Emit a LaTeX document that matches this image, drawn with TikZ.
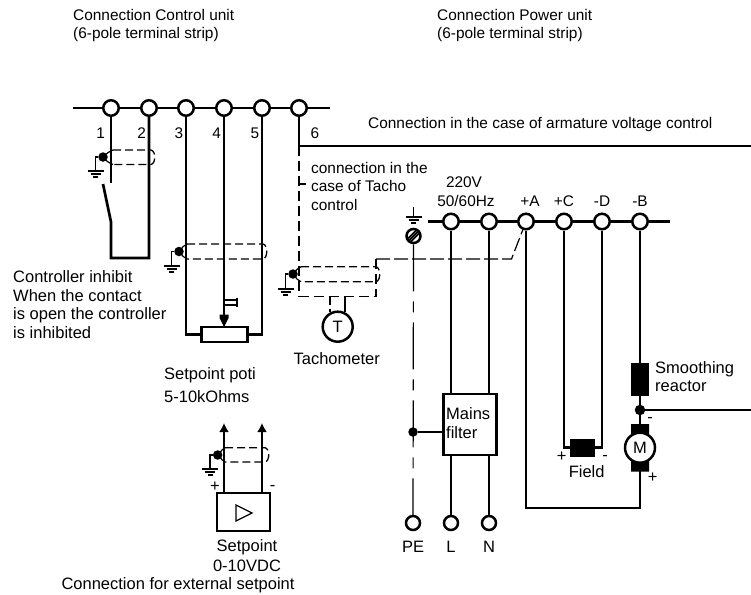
\documentclass[tikz,border=0pt]{standalone}
\usepackage{fontspec}
\setmainfont{Liberation Sans}
\usetikzlibrary{arrows.meta}
\tikzset{
 wire/.style={line width=2.7pt,black},
 shield/.style={line width=1.3pt,dash pattern=on 8pt off 4pt},
 term/.style={circle,draw,line width=2.5pt,fill=white,minimum size=15.5pt,inner sep=0pt},
 dotn/.style={circle,fill=black,minimum size=9.5pt,inner sep=0pt},
 blk/.style={rectangle,fill=black,inner sep=0pt},
 lab/.style={inner sep=0pt,align=left,anchor=west,font=\fontsize{16.5}{18.5}\selectfont},
 clab/.style={inner sep=0pt,align=center,font=\fontsize{16.5}{18.5}\selectfont},
 labs/.style={inner sep=0pt,align=left,anchor=west,font=\fontsize{15.4}{18.5}\selectfont},
 clabs/.style={inner sep=0pt,align=center,font=\fontsize{15.4}{18.5}\selectfont},
 mach/.style={circle,draw,line width=2.5pt,fill=white,minimum size=30pt,inner sep=0pt,font=\fontsize{16.5}{18}\selectfont},
 pics/gnd/.style={code={
   \draw[line width=1.2pt] (-8,0) -- (8,0) (-5,3) -- (5,3) (-2.5,6) -- (2.5,6);}},
}
\newcommand{\shieldpath}[5]{% left, right, top, bottom, dotx
 \draw[shield] (#1,#3) -- (#2,#3) .. controls (#2+5,#3+1) and (#2+5,#4-1) .. (#2,#4) -- (#1,#4);
 \draw[line width=1.2pt] (#1,#3) .. controls (#1-3,#3+1) and (#5+3,#3+4) .. (#5+2,#3+5);
 \draw[line width=1.2pt] (#1,#4) .. controls (#1-3,#4-1) and (#5+3,#4-4) .. (#5+2,#4-5);
}
\begin{document}
\begin{tikzpicture}[x=1pt,y=-1pt]
\path[use as bounding box] (0,0) rectangle (751,594);
% top texts
\node[labs] (h1) at (73,25.5) {Connection Control unit\\(6-pole terminal strip)};
\node[labs] (h2) at (437,25.5) {Connection Power unit\\(6-pole terminal strip)};
\node[labs] (h3) at (368,125) {Connection in the case of armature voltage control};
% control strip
\coordinate (sL) at (73,108);
\coordinate (sR) at (330,108);
\node[term] (t1) at (111,108) {};
\node[term] (t2) at (149,108) {};
\node[term] (t3) at (186,108) {};
\node[term] (t4) at (224,108) {};
\node[term] (t5) at (262,108) {};
\node[term] (t6) at (299,108) {};
\draw[wire] (sL) -- (t1) -- (t2) -- (t3) -- (t4) -- (t5) -- (t6) -- (sR);
\foreach \n/\x in {1/100.7,2/141.7,3/179,4/216.7,5/255,6/315}
  \node[clabs] at (\x,133.5) {\n};
% terminal 1/2 contact
\coordinate (c1) at (111,183);
\coordinate (c2) at (103,184);
\coordinate (c3) at (111,222);
\coordinate (c4) at (111,258);
\coordinate (c5) at (149,258);
\draw[wire] (t1) -- (c1);
\draw[wire,line join=miter] (c2) -- (c3) -- (c4) -- (c5) -- (t2);
% pot
\node[rectangle,draw,line width=2.5pt,fill=white,minimum width=46pt,minimum height=15pt,inner sep=0pt] (pot) at (224.5,334.5) {};
\draw[wire,line join=miter] (t3) -- (186,334.5) -- (pot.west);
\draw[wire,line join=miter] (t5) -- (262,334.5) -- (pot.east);
\draw[wire] (t4) -- (224,315);
\fill (219.5,314.5) -- (228.5,314.5) -- (228.5,318) -- (224,327) -- (219.5,318) -- cycle;
\draw[line width=1.2pt] (224,300) -- (237,300) (224,305) -- (237,305) (237,297.5) -- (237,307);
% shield 1
\shieldpath{113}{151}{150}{164.5}{103}
\node[dotn] (d1) at (103,157) {};
\draw[line width=1.2pt] (d1) -- (95.7,157) -- (95.7,171);
\pic at (95.7,171) {gnd};
% shield 2
\shieldpath{187}{263}{244}{259}{179}
\node[dotn] (d2) at (179,251.5) {};
\draw[line width=1.2pt] (d2) -- (171.5,251.5) -- (171.5,266);
\pic at (171.5,266) {gnd};
% tacho
\draw[line width=1.3pt,dash pattern=on 10pt off 5pt] (299,146) -- (299,296.5) -- (376,296.5) -- (376,258.7);
\draw[line width=1.2pt] (299,184) -- (306,184);
\shieldpath{301}{376}{266.7}{281.7}{293}
\node[dotn] (d3) at (293,274) {};
\draw[line width=1.2pt] (d3) -- (285.5,274) -- (285.5,289);
\pic at (285.5,289) {gnd};
\node[mach] (T) at (337.7,326.7) {T};
\draw[shield] (330,296.5) -- (330,312);
\draw[line width=1.2pt] (345,296.5) -- (345,312);
\node[clab] at (336.7,359) {Tachometer};
\node[labs] at (311,186) {connection in the\\case of Tacho\\control};
% power strip
\coordinate (pL) at (428,221.5);
\coordinate (pR) at (670,221.5);
\node[term] (pa) at (451,221.5) {};
\node[term] (pb) at (489,221.5) {};
\node[term] (pA) at (526,221.5) {};
\node[term] (pC) at (564,221.5) {};
\node[term] (pD) at (602,221.5) {};
\node[term] (pB) at (640,221.5) {};
\draw[wire] (pL) -- (pa) -- (pb) -- (pA) -- (pC) -- (pD) -- (pB) -- (pR);
\node[clabs] at (464,182.5) {220V};
\node[clabs] at (466,200.7) {50/60Hz};
\node[clabs] at (530,200.7) {+A};
\node[clabs] at (564,200.7) {+C};
\node[clabs] at (602,200.7) {-D};
\node[clabs] at (640,200.7) {-B};
% connection 6 to right
\coordinate (rr) at (751,146);
\draw[wire,line join=miter] (t6) -- (299,146) -- (rr);
% earth screw
\node[circle,draw,line width=2.5pt,fill=white,minimum size=14pt,inner sep=0pt] (scr) at (413.5,236) {};
\draw[line width=1.5pt] (409.5,240) -- (417.5,232) (411,241.5) -- (419,233.5) (408,238.5) -- (416,230.5);
\coordinate (g0) at (413.5,207);
\draw[line width=1.2pt] (g0) -- (413.5,217);
\pic at (413.5,217) {gnd};
\node[term,minimum size=14pt] (PE) at (413,523) {};
\node[term,minimum size=14pt] (L) at (451,523) {};
\node[term,minimum size=14pt] (N) at (489,523) {};
\draw[line width=1.2pt,dash pattern=on 47pt off 10pt on 11pt off 10pt] (scr) -- (PE);
% tacho signal to +A
\draw[line width=1.2pt,dash pattern=on 14pt off 4pt] (376,259) -- (511.5,259) -- (pA);
% filter
\node[rectangle,draw,line width=2.5pt,fill=white,minimum width=53pt,minimum height=61pt,inner sep=0pt] (filt) at (470,424.5) {};
\node[lab] at (446,423) {Mains\\filter};
\draw[wire] (pa) -- (451,394) (pb) -- (489,394);
\draw[wire] (451,455) -- (L) (489,455) -- (N);
\node[dotn,minimum size=9.5pt] (d4) at (413,432) {};
\draw[line width=1.2pt] (d4) -- (443,432);
% motor
\node[blk,minimum width=18pt,minimum height=33pt] (rea) at (640,379.5) {};
\node[circle,fill=black,minimum size=10.5pt,inner sep=0pt] (j) at (640,410) {};
\fill (631,424) rectangle (649,436) (631,460) rectangle (649,471.5);
\node[mach] (M) at (640,447.7) {M};
\draw[wire] (pB) -- (rea);
\draw[wire] (rea) -- (j);
\draw[wire] (j) -- (640,424);
\coordinate (rr2) at (751,410);
\draw[wire] (j) -- (rr2);
\draw[wire,line join=miter] (pA) -- (526,508) -- (640,508) -- (640,471);
\node[blk,minimum width=25pt,minimum height=18pt] (fld) at (582.5,447.7) {};
\draw[wire,line join=miter] (pC) -- (564,447.7) -- (fld);
\draw[wire,line join=miter] (pD) -- (602,447.7) -- (fld);
\node[lab] at (655,376.5) {Smoothing\\reactor};
\node[clab] at (586.7,472) {Field};
\node[clab] at (561.7,457) {+};
\node[clab] at (605,458) {-};
\node[clab] at (650,420) {-};
\node[clab] at (652.7,478) {+};
\node[clab] at (413,547) {PE};
\node[clab] at (451,547) {L};
\node[clab] at (489,547) {N};
% labels left
\node[lab] at (13,304.5) {Controller inhibit\\When the contact\\is open the controller\\is inhibited};
\node[lab] at (164,375) {Setpoint poti};
\node[lab] at (164,397) {5-10kOhms};
% external setpoint
\node[rectangle,draw,line width=2.5pt,fill=white,minimum width=53pt,minimum height=38pt,inner sep=0pt] (sp) at (243.5,512) {};
\draw[line width=1.2pt] (236,505) -- (252,513) -- (236,521) -- cycle;
\draw[wire,-{Latex[length=9pt,width=10pt]}] (224,493) -- (224,423);
\draw[wire,-{Latex[length=9pt,width=10pt]}] (262,493) -- (262,423);
\shieldpath{225}{265}{447.7}{462}{218}
\node[dotn] (d5) at (217.7,455) {};
\draw[line width=1.2pt] (d5) -- (210,455) -- (210,469);
\pic at (210,469) {gnd};
\node[clab] at (215,486.7) {+};
\node[clab] at (272.7,488) {-};
\node[clab] at (247,547) {Setpoint};
\node[clab] at (247,566) {0-10VDC};
\node[clab] at (178,585) {Connection for external setpoint};
\end{tikzpicture}
\end{document}
